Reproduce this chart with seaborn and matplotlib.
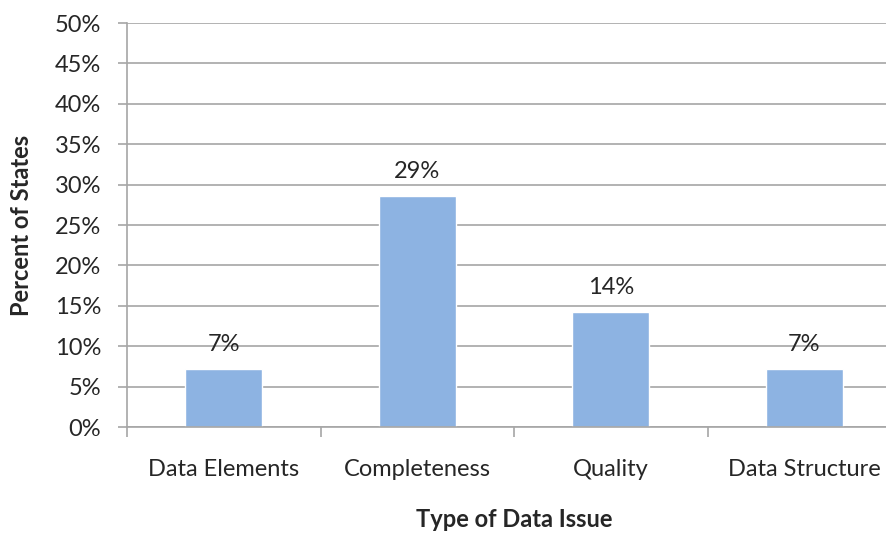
import matplotlib
matplotlib.use("Agg")
import matplotlib.pyplot as plt
from matplotlib.ticker import FixedLocator, PercentFormatter
import seaborn as sns
import pandas as pd

categories = ["Data Elements", "Completeness", "Quality", "Data Structure"]
percent_of_states = [7.14, 28.57, 14.29, 7.14]
y_ticks = [0, 5, 10, 15, 20, 25, 30, 35, 40, 45, 50]

df = pd.DataFrame({"issue": categories, "pct": percent_of_states})

sns.set_theme(style="white")
plt.rcParams["font.family"] = ["Lato", "DejaVu Sans"]

text_color = "#262626"
grid_color = "#a6a6a6"
bar_color = "#8db3e2"
fs = 17

fig = plt.figure(figsize=(8.86, 5.33), dpi=100)
ax = fig.add_axes([127 / 886, 106 / 533, (901 - 127) / 886, (427 - 23) / 533])

sns.barplot(data=df, x="issue", y="pct", color=bar_color, saturation=1,
            width=0.4, ax=ax, zorder=3)

ax.set_xlim(-0.5, len(categories) - 0.5)
ax.set_ylim(0, 50)
ax.set_yticks(y_ticks)
ax.yaxis.set_major_formatter(PercentFormatter(decimals=0))
ax.grid(axis="y", color=grid_color, linewidth=1.2, zorder=0)
ax.grid(axis="x", visible=False)

for s in ["top", "right"]:
    ax.spines[s].set_visible(False)
for s in ["left", "bottom"]:
    ax.spines[s].set_color(grid_color)
    ax.spines[s].set_linewidth(1.2)
    ax.spines[s].set_zorder(4)

ax.tick_params(axis="y", which="major", length=6.5, width=1.2, color=grid_color,
               direction="out", left=True, labelsize=fs, labelcolor=text_color, pad=12)
ax.tick_params(axis="x", which="major", length=0, labelsize=fs,
               labelcolor=text_color, pad=23)
ax.xaxis.set_minor_locator(FixedLocator([i - 0.5 for i in range(len(categories) + 1)]))
ax.tick_params(axis="x", which="minor", length=7, width=1.2, color=grid_color,
               direction="out", bottom=True)

for i, v in enumerate(percent_of_states):
    ax.annotate(f"{v:.0f}%", (i, v), xytext=(0, 10), textcoords="offset points",
                ha="center", va="bottom", fontsize=fs, color=text_color)

ax.set_xlabel("Type of Data Issue", fontsize=fs, fontweight="bold",
              color=text_color, labelpad=20)
ax.set_ylabel("Percent of States", fontsize=fs, fontweight="bold",
              color=text_color, labelpad=16)

fig.savefig("out.png", dpi=100)
